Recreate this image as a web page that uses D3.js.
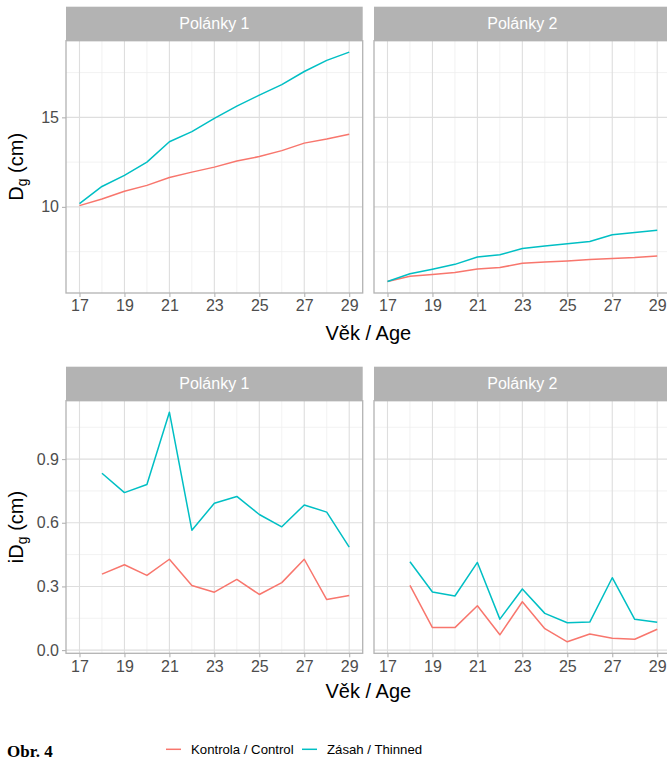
<!DOCTYPE html>
<html>
<head>
<meta charset="utf-8">
<script src="https://cdn.jsdelivr.net/npm/d3@7"></script>
<style>
  html, body { margin: 0; padding: 0; background: #ffffff; }
  svg { display: block; font-family: "Liberation Sans", Arial, sans-serif; }
</style>
</head>
<body>
<svg id="chart" width="667" height="760"></svg>
<script>
// ---------------- DATA ----------------
const years = [17, 18, 19, 20, 21, 22, 23, 24, 25, 26, 27, 28, 29];
const yearsInc = [18, 19, 20, 21, 22, 23, 24, 25, 26, 27, 28, 29];
const xTicks = [17, 19, 21, 23, 25, 27, 29];
const facets = ["Polánky 1", "Polánky 2"];
const seriesNames = ["Kontrola / Control", "Zásah / Thinned"];
const seriesColors = ["#F8766D", "#00BFC4"];

// Dg (cm)
const dgP1Control = [10.07, 10.44, 10.87, 11.20, 11.64, 11.94, 12.22, 12.56, 12.81, 13.14, 13.56, 13.79, 14.06];
const dgP1Thinned = [10.18, 11.14, 11.76, 12.50, 13.64, 14.20, 14.94, 15.63, 16.24, 16.83, 17.56, 18.18, 18.64];
const dgP2Control = [5.83, 6.13, 6.22, 6.33, 6.53, 6.61, 6.85, 6.92, 6.98, 7.06, 7.11, 7.17, 7.26];
const dgP2Thinned = [5.83, 6.26, 6.52, 6.79, 7.20, 7.33, 7.67, 7.81, 7.94, 8.07, 8.44, 8.57, 8.70];

// iDg (cm)
const idgP1Control = [0.358, 0.402, 0.352, 0.428, 0.304, 0.273, 0.333, 0.262, 0.318, 0.428, 0.238, 0.257];
const idgP1Thinned = [0.833, 0.742, 0.780, 1.121, 0.565, 0.692, 0.724, 0.639, 0.581, 0.684, 0.650, 0.485];
const idgP2Control = [0.305, 0.106, 0.106, 0.209, 0.072, 0.228, 0.101, 0.039, 0.076, 0.056, 0.051, 0.098];
const idgP2Thinned = [0.416, 0.274, 0.255, 0.413, 0.146, 0.288, 0.173, 0.129, 0.132, 0.341, 0.145, 0.131];

const topYTicks = [10, 15];
const topYMinor = [7.5, 12.5, 17.5];
const botYTicks = [0.0, 0.3, 0.6, 0.9];
const botYMinor = [0.15, 0.45, 0.75, 1.05];

// ---------------- LAYOUT ----------------
const svg = d3.select("#chart");
const panelLefts = [66, 374];
const panelW = 296.7;
const stripH = 34;

function expand(ext, f) {
  const r = ext[1] - ext[0];
  return [ext[0] - r * f, ext[1] + r * f];
}

const xDomain = expand([d3.min(years), d3.max(years)], 0.05);
const xScale = d3.scaleLinear().domain(xDomain).range([0, panelW]);

const rows = [
  {
    stripTop: 6.7, panelTop: 40.7, panelBottom: 293,
    xs: years,
    data: [[dgP1Control, dgP1Thinned], [dgP2Control, dgP2Thinned]],
    ticks: topYTicks, minor: topYMinor,
    fmt: d3.format("d"),
    ylabMain: "D", ylabSub: "g", ylabPre: "", ylabPost: " (cm)",
    xTitleY: 340
  },
  {
    stripTop: 366.7, panelTop: 400.7, panelBottom: 653.3,
    xs: yearsInc,
    data: [[idgP1Control, idgP1Thinned], [idgP2Control, idgP2Thinned]],
    ticks: botYTicks, minor: botYMinor,
    fmt: d3.format(".1f"),
    ylabMain: "D", ylabSub: "g", ylabPre: "i", ylabPost: " (cm)",
    xTitleY: 698
  }
];

const xMinor = [18, 20, 22, 24, 26, 28];

rows.forEach((row, ri) => {
  const allVals = row.data.flat(2);
  const yDomain = expand(d3.extent(allVals), 0.05);
  const yScale = d3.scaleLinear().domain(yDomain).range([row.panelBottom - row.panelTop, 0]);
  const ph = row.panelBottom - row.panelTop;

  facets.forEach((fname, fi) => {
    const g = svg.append("g").attr("transform", `translate(${panelLefts[fi]},${row.panelTop})`);

    // minor gridlines
    g.selectAll(".hminor").data(row.minor).join("line")
      .attr("x1", 0).attr("x2", panelW)
      .attr("y1", d => yScale(d)).attr("y2", d => yScale(d))
      .attr("stroke", "#efefef").attr("stroke-width", 0.8);
    g.selectAll(".vminor").data(xMinor).join("line")
      .attr("y1", 0).attr("y2", ph)
      .attr("x1", d => xScale(d)).attr("x2", d => xScale(d))
      .attr("stroke", "#efefef").attr("stroke-width", 0.8);
    // major gridlines
    g.selectAll(".hmajor").data(row.ticks).join("line")
      .attr("x1", 0).attr("x2", panelW)
      .attr("y1", d => yScale(d)).attr("y2", d => yScale(d))
      .attr("stroke", "#dedede").attr("stroke-width", 1.1);
    g.selectAll(".vmajor").data(xTicks).join("line")
      .attr("y1", 0).attr("y2", ph)
      .attr("x1", d => xScale(d)).attr("x2", d => xScale(d))
      .attr("stroke", "#dedede").attr("stroke-width", 1.1);

    // lines
    const line = d3.line()
      .x((d, i) => xScale(row.xs[i]))
      .y(d => yScale(d));
    row.data[fi].forEach((vals, si) => {
      g.append("path")
        .datum(vals)
        .attr("d", line)
        .attr("fill", "none")
        .attr("stroke", seriesColors[si])
        .attr("stroke-width", 1.5)
        .attr("stroke-linejoin", "round");
    });

    // panel border
    g.append("rect")
      .attr("x", 0).attr("y", 0).attr("width", panelW).attr("height", ph)
      .attr("fill", "none").attr("stroke", "#b3b3b3").attr("stroke-width", 1.3);

    // x axis
    const xAxis = d3.axisBottom(xScale).tickValues(xTicks).tickSize(4).tickPadding(3)
      .tickFormat(d3.format("d"));
    const xa = g.append("g").attr("transform", `translate(0,${ph})`).call(xAxis);
    xa.select(".domain").remove();
    xa.selectAll(".tick line").attr("stroke", "#b3b3b3").attr("stroke-width", 1.1);
    xa.selectAll(".tick text").attr("fill", "#4d4d4d").style("font-size", "16px")
      .style("font-family", "'Liberation Sans', Arial, sans-serif");

    // y axis (left facet only)
    if (fi === 0) {
      const yAxis = d3.axisLeft(yScale).tickValues(row.ticks).tickSize(4).tickPadding(3)
        .tickFormat(row.fmt);
      const ya = g.append("g").call(yAxis);
      ya.select(".domain").remove();
      ya.selectAll(".tick line").attr("stroke", "#b3b3b3").attr("stroke-width", 1.1);
      ya.selectAll(".tick text").attr("fill", "#4d4d4d").style("font-size", "16px")
        .style("font-family", "'Liberation Sans', Arial, sans-serif");
    }

    // strip
    svg.append("rect")
      .attr("x", panelLefts[fi]).attr("y", row.stripTop)
      .attr("width", panelW).attr("height", stripH)
      .attr("fill", "#b3b3b3");
    svg.append("text")
      .attr("x", panelLefts[fi] + panelW / 2)
      .attr("y", row.stripTop + stripH / 2)
      .attr("dy", "0.36em")
      .attr("text-anchor", "middle")
      .attr("fill", "#ffffff")
      .style("font-size", "16px")
      .text(fname);
  });

  // x title
  const cx = (panelLefts[0] + panelLefts[1] + panelW) / 2;
  svg.append("text")
    .attr("x", cx).attr("y", row.xTitleY)
    .attr("text-anchor", "middle")
    .attr("fill", "#000000")
    .style("font-size", "20px")
    .text("Věk / Age");

  // y title
  const cy = (row.panelTop + row.panelBottom) / 2;
  const yt = svg.append("text")
    .attr("transform", `translate(23,${cy}) rotate(-90)`)
    .attr("text-anchor", "middle")
    .attr("fill", "#000000")
    .style("font-size", "20px");
  if (row.ylabPre) yt.append("tspan").text(row.ylabPre);
  yt.append("tspan").text(row.ylabMain);
  yt.append("tspan").attr("dy", "0.3em").style("font-size", "14px").text(row.ylabSub);
  yt.append("tspan").attr("dy", "-0.21em").text(row.ylabPost);
});

// ---------------- LEGEND ----------------
const legendY = 749.3;
const legendItems = [
  { x: 166, tx: 191 },
  { x: 302, tx: 327 }
];
seriesNames.forEach((name, i) => {
  svg.append("line")
    .attr("x1", legendItems[i].x).attr("x2", legendItems[i].x + 15)
    .attr("y1", legendY).attr("y2", legendY)
    .attr("stroke", seriesColors[i]).attr("stroke-width", 1.5);
  svg.append("text")
    .attr("x", legendItems[i].tx).attr("y", legendY)
    .attr("dy", "0.36em")
    .attr("fill", "#000000")
    .style("font-size", "13.2px")
    .text(name);
});

// caption fragment at the lower-left corner
svg.append("text")
  .attr("x", 7).attr("y", 757)
  .attr("fill", "#000000")
  .style("font-family", "'Liberation Serif', 'Times New Roman', serif")
  .style("font-weight", "bold")
  .style("font-size", "17px")
  .text("Obr. 4");
</script>
</body>
</html>
